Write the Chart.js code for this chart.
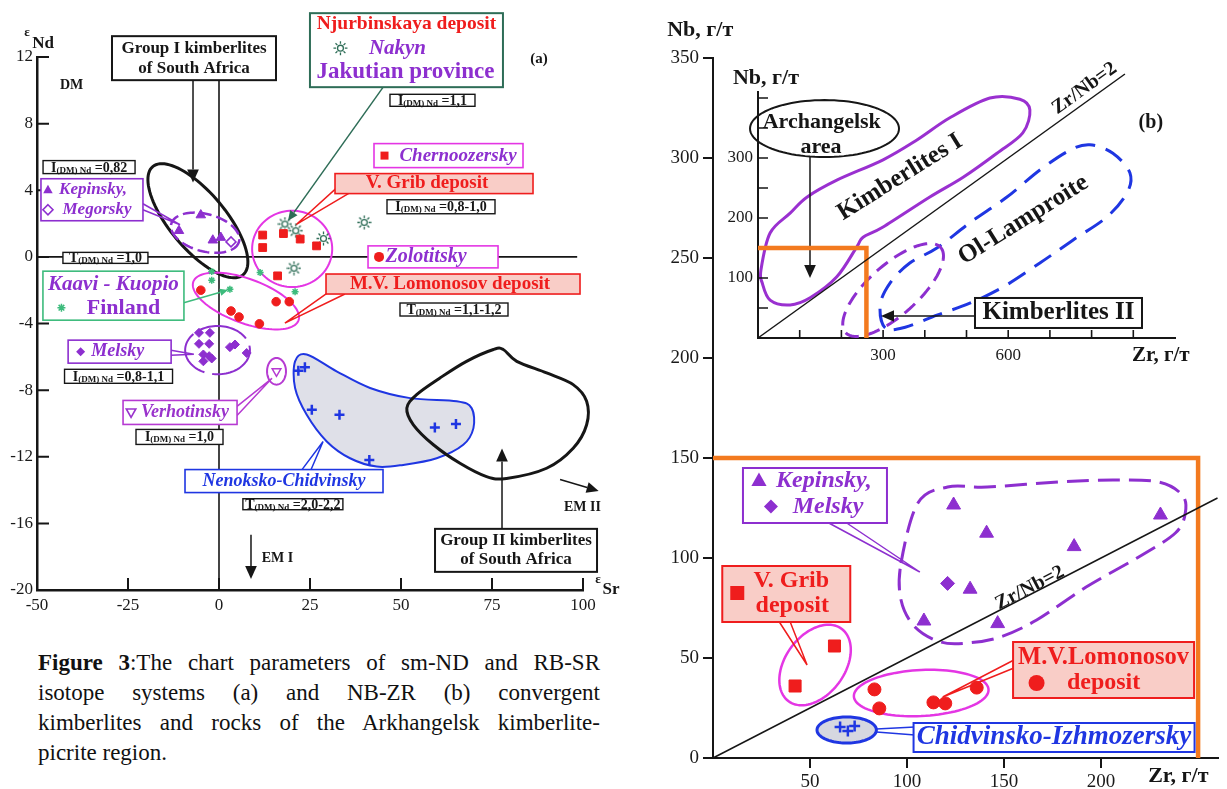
<!DOCTYPE html>
<html lang="en">
<head>
<meta charset="utf-8">
<title>Figure 3</title>
<script src="https://cdn.jsdelivr.net/npm/chart.js@4.4.1/dist/chart.umd.min.js"></script>
<style>
  html, body { margin: 0; padding: 0; background: #fff; }
  body { position: relative; width: 1227px; height: 789px; overflow: hidden; }
  canvas { position: absolute; }
  #chart-a { left: 0; top: 0; }
  #chart-b { left: 640px; top: 0; }
  #chart-b-inset { left: 700px; top: 60px; }
  #caption { position: absolute; left: 38px; top: 648px; width: 562px;
             font: 23px/30px "Liberation Serif", serif; color: #111; }
  #caption span { display: block; text-align: justify; text-align-last: justify; }
  #caption span.last { text-align-last: left; }
</style>
</head>
<body>
<canvas id="chart-a" width="630" height="625"></canvas>
<canvas id="chart-b" width="587" height="789"></canvas>
<canvas id="chart-b-inset" width="527" height="320"></canvas>
<div id="caption">
  <span><b>Figure 3</b>:The chart parameters of sm-ND and RB-SR</span>
  <span>isotope systems (a) and NB-ZR (b) convergent</span>
  <span>kimberlites and rocks of the Arkhangelsk kimberlite-</span>
  <span class="last">picrite region.</span>
</div>
<script>
const SERIF = '"Liberation Serif", "DejaVu Serif", serif';
Chart.defaults.font.family = SERIF;
Chart.defaults.color = '#1a1a1a';

const RED = '#ef1d1d', PURPLE = '#8d2fcf', MAGENTA = '#e436e4', BLUE = '#1f36e2',
      GREEN = '#3dbb7c', TEAL = '#2e6d57', ORANGE = '#f37a1f', INK = '#161616', PINK = '#f9cdc7';

// --- (a) eSr - eNd ---
const srTicks = [-50, -25, 0, 25, 50, 75, 100];
const ndTicks = [-20, -16, -12, -8, -4, 0, 4, 8, 12];

const chernoSr = [12.0, 12.0, 17.7, 22.3, 26.8, 16.1];
const chernoNd = [1.31, 0.56, 1.40, 1.07, 0.66, -1.14];
const nakynSr = [18.1, 21.1, 28.7, 20.6, 39.9];
const nakynNd = [1.97, 1.57, 1.10, -0.68, 2.07];
const zolotSr = [-5.0, 15.7, 19.3, 3.3, 5.5, 11.1];
const zolotNd = [-2.0, -2.69, -2.69, -3.25, -3.61, -4.02];
const kaaviSr = [-2.0, -2.0, 3.0, 11.3, 20.9];
const kaaviNd = [-0.88, -1.4, -1.95, -0.94, -2.09];
const kepinskySr = [-5.0, -11.0, -1.7, 0.5];
const kepinskyNd = [2.51, 1.57, 1.0, 1.16];
const megorskySr = [3.3];
const megorskyNd = [0.9];
const melskySr = [-5.5, -2.5, -5.5, -2.7, -4.3, -2.7, -4.3, -2.0, 3.0, 4.4, 7.6];
const melskyNd = [-4.56, -4.56, -5.22, -5.22, -5.86, -5.96, -6.27, -6.1, -5.42, -5.26, -5.77];
const verhoSr = [15.8];
const verhoNd = [-6.87];
const nenokSr = [21.8, 23.6, 25.5, 33.1, 41.3, 59.3, 65.1];
const nenokNd = [-6.83, -6.63, -9.18, -9.48, -12.19, -10.24, -10.04];

// --- (b) Zr - Nb ---
const zrTicks = [50, 100, 150, 200];
const nbTicks = [0, 50, 100, 150, 200, 250, 300, 350];
const insetZrTicks = [100, 200, 300, 400, 500, 600, 700, 800, 900];
const insetZrLabels = [300, 600];
const insetNbTicks = [50, 100, 150, 200, 250, 300, 350, 400];
const insetNbLabels = [100, 200, 300];

const kepinskyZr = [124.0, 141.0, 132.5, 108.7, 146.7, 186.1, 230.6];
const kepinskyNb = [126.5, 112.4, 84.4, 68.5, 67.2, 105.7, 121.5];
const melskyZr = [120.9];
const melskyNb = [87.3];
const gribZr = [42.3, 62.6];
const gribNb = [36.0, 56.0];
const lomonosovZr = [83.2, 85.7, 113.6, 119.7, 135.9];
const lomonosovNb = [34.3, 24.8, 27.8, 27.3, 35.2];
const chidZr = [65.5, 69.5, 73.0];
const chidNb = [15.5, 13.5, 16.0];

// Zr/Nb = 2 reference line and the Arkhangelsk window (Zr <= 250, Nb <= 150)
const ratioZr = [0, 260];
const ratioNb = [0, 130];
const frameZr = [0, 250, 250];
const frameNb = [150, 150, 0];
const insetRatioZr = [0, 880];
const insetRatioNb = [0, 440];
const insetFrameZr = [0, 260, 260];
const insetFrameNb = [150, 150, 0];

const pts = (xs, ys) => xs.map((x, i) => ({ x, y: ys[i] }));
const mapper = chart => (x, y) => [chart.scales.x.getPixelForValue(x), chart.scales.y.getPixelForValue(y)];

// ---------- drawing helpers ----------
function glyph(ctx, type, x, y, r, color) {
  ctx.save();
  ctx.fillStyle = color; ctx.strokeStyle = color; ctx.lineWidth = 1.6;
  ctx.beginPath();
  let fill = true;
  switch (type) {
    case 'tri':
      ctx.moveTo(x, y - r); ctx.lineTo(x + r * 0.95, y + r * 0.7); ctx.lineTo(x - r * 0.95, y + r * 0.7); ctx.closePath(); break;
    case 'triDownOpen':
      fill = false;
      ctx.moveTo(x, y + r); ctx.lineTo(x + r * 0.95, y - r * 0.7); ctx.lineTo(x - r * 0.95, y - r * 0.7); ctx.closePath(); break;
    case 'diamondOpen':
      fill = false;
    // falls through
    case 'diamond':
      ctx.moveTo(x, y - r); ctx.lineTo(x + r, y); ctx.lineTo(x, y + r); ctx.lineTo(x - r, y); ctx.closePath(); break;
    case 'square':
      ctx.rect(x - r, y - r, 2 * r, 2 * r); break;
    case 'circle':
      ctx.arc(x, y, r, 0, Math.PI * 2); break;
    case 'sun':
      fill = false; ctx.lineWidth = 1.3;
      ctx.arc(x, y, r * 0.42, 0, Math.PI * 2);
      for (let k = 0; k < 8; k++) {
        const a = k * Math.PI / 4;
        ctx.moveTo(x + Math.cos(a) * r * 0.62, y + Math.sin(a) * r * 0.62);
        ctx.lineTo(x + Math.cos(a) * r, y + Math.sin(a) * r);
      }
      break;
    case 'star':
      fill = false; ctx.lineWidth = 1.5;
      for (let k = 0; k < 4; k++) {
        const a = k * Math.PI / 4;
        ctx.moveTo(x - Math.cos(a) * r, y - Math.sin(a) * r);
        ctx.lineTo(x + Math.cos(a) * r, y + Math.sin(a) * r);
      }
      break;
  }
  fill ? ctx.fill() : ctx.stroke();
  ctx.restore();
}

function sunImage(size, color) {
  const c = document.createElement('canvas');
  c.width = c.height = size;
  glyph(c.getContext('2d'), 'sun', size / 2, size / 2, size / 2 - 0.5, color);
  return c;
}

function fontOf(size, italic) {
  return `${italic ? 'italic ' : ''}bold ${size}px ${SERIF}`;
}

function label(ctx, P, t) {
  const [x, y] = P(t.x, t.y);
  ctx.save();
  ctx.font = fontOf(t.size, t.italic);
  ctx.fillStyle = t.color || INK;
  ctx.textAlign = t.align || 'center';
  ctx.textBaseline = 'middle';
  ctx.translate(x, y);
  if (t.rot) ctx.rotate(t.rot);
  ctx.fillText(t.t, 0, 0);
  ctx.restore();
}

function textBox(ctx, P, b) {
  const [cx, cy] = P(b.x, b.y);
  ctx.save();
  ctx.fillStyle = b.fill || '#fff';
  ctx.fillRect(cx - b.w / 2, cy - b.h / 2, b.w, b.h);
  ctx.strokeStyle = b.stroke; ctx.lineWidth = b.lw || 1.6;
  ctx.strokeRect(cx - b.w / 2, cy - b.h / 2, b.w, b.h);
  ctx.textAlign = 'center'; ctx.textBaseline = 'middle';
  b.rows.forEach(r => {
    if (r.glyph) glyph(ctx, r.glyph, cx + r.gx, cy + (r.gy ?? r.dy ?? 0), r.gr, r.gc || r.color);
    ctx.font = fontOf(r.size, r.italic);
    ctx.fillStyle = r.color || INK;
    ctx.fillText(r.t, cx + (r.dx || 0), cy + (r.dy || 0));
  });
  ctx.restore();
}

// model-age tag: T(DM) Nd = ...
function ageLabel(ctx, P, d) {
  const [cx, cy] = P(d.x, d.y);
  ctx.save();
  ctx.fillStyle = '#fff';
  ctx.fillRect(cx - d.w / 2, cy - d.h / 2, d.w, d.h);
  ctx.strokeStyle = INK; ctx.lineWidth = 1.4;
  ctx.strokeRect(cx - d.w / 2, cy - d.h / 2, d.w, d.h);
  const big = `bold 14px ${SERIF}`, small = `bold 9px ${SERIF}`;
  const sub = '(DM) Nd', val = ' =' + d.v;
  ctx.font = big;
  const w1 = ctx.measureText(d.lead).width, w3 = ctx.measureText(val).width;
  ctx.font = small;
  const w2 = ctx.measureText(sub).width;
  let x = cx - (w1 + w2 + w3) / 2;
  const base = cy + 4.5;
  ctx.fillStyle = INK; ctx.textAlign = 'left'; ctx.textBaseline = 'alphabetic';
  ctx.font = big; ctx.fillText(d.lead, x, base); x += w1;
  ctx.font = small; ctx.fillText(sub, x, base + 1); x += w2;
  ctx.font = big; ctx.fillText(val, x, base);
  ctx.restore();
}

function ellipsePath(ctx, P, e) {
  ctx.beginPath();
  for (let i = 0; i <= 96; i++) {
    const t = i / 96 * Math.PI * 2;
    const [px, py] = P(e.c[0] + e.a[0] * Math.cos(t) + e.b[0] * Math.sin(t),
                       e.c[1] + e.a[1] * Math.cos(t) + e.b[1] * Math.sin(t));
    i ? ctx.lineTo(px, py) : ctx.moveTo(px, py);
  }
  ctx.closePath();
}

// closed Catmull-Rom curve through the outline points
function smoothPath(ctx, p) {
  const n = p.length;
  ctx.beginPath();
  ctx.moveTo(p[0][0], p[0][1]);
  for (let i = 0; i < n; i++) {
    const p0 = p[(i - 1 + n) % n], p1 = p[i], p2 = p[(i + 1) % n], p3 = p[(i + 2) % n];
    ctx.bezierCurveTo(p1[0] + (p2[0] - p0[0]) / 6, p1[1] + (p2[1] - p0[1]) / 6,
                      p2[0] - (p3[0] - p1[0]) / 6, p2[1] - (p3[1] - p1[1]) / 6, p2[0], p2[1]);
  }
  ctx.closePath();
}

function outline(ctx, P, o) {
  ctx.save();
  if (o.points) smoothPath(ctx, o.points.map(q => P(q[0], q[1])));
  else ellipsePath(ctx, P, o);
  if (o.fill) { ctx.fillStyle = o.fill; ctx.fill(); }
  ctx.setLineDash(o.dash || []);
  ctx.strokeStyle = o.stroke; ctx.lineWidth = o.lw || 2;
  ctx.stroke();
  ctx.restore();
}

function leader(ctx, P, l) {
  ctx.save();
  ctx.strokeStyle = l.color; ctx.lineWidth = l.lw || 1.5;
  ctx.beginPath();
  const t = P(l.to[0], l.to[1]);
  l.from.forEach(f => { const p = P(f[0], f[1]); ctx.moveTo(p[0], p[1]); ctx.lineTo(t[0], t[1]); });
  ctx.stroke();
  ctx.restore();
}

function arrow(ctx, P, a) {
  const p1 = P(a.from[0], a.from[1]), p2 = P(a.to[0], a.to[1]);
  const h = a.head || 12, ang = Math.atan2(p2[1] - p1[1], p2[0] - p1[0]);
  const bx = p2[0] - Math.cos(ang) * h, by = p2[1] - Math.sin(ang) * h;
  ctx.save();
  ctx.strokeStyle = a.color || INK; ctx.fillStyle = a.color || INK; ctx.lineWidth = a.lw || 1.5;
  ctx.beginPath(); ctx.moveTo(p1[0], p1[1]); ctx.lineTo(bx, by); ctx.stroke();
  ctx.beginPath();
  ctx.moveTo(p2[0], p2[1]);
  ctx.lineTo(bx + Math.sin(ang) * h * 0.45, by - Math.cos(ang) * h * 0.45);
  ctx.lineTo(bx - Math.sin(ang) * h * 0.45, by + Math.cos(ang) * h * 0.45);
  ctx.closePath(); ctx.fill();
  ctx.restore();
}

function segment(ctx, P, s) {
  ctx.save();
  ctx.strokeStyle = s.color || INK; ctx.lineWidth = s.lw || 1.5;
  ctx.beginPath();
  const a = P(s.from[0], s.from[1]), b = P(s.to[0], s.to[1]);
  ctx.moveTo(a[0], a[1]); ctx.lineTo(b[0], b[1]); ctx.stroke();
  ctx.restore();
}

// tick marks pointing into the plot
function innerTicks(chart, lenX, lenY, lw) {
  const { ctx, chartArea: a, scales: { x, y } } = chart;
  ctx.save();
  ctx.strokeStyle = INK; ctx.lineWidth = lw;
  ctx.beginPath();
  x.ticks.forEach(t => { const px = x.getPixelForValue(t.value); ctx.moveTo(px, a.bottom); ctx.lineTo(px, a.bottom - lenX); });
  y.ticks.forEach(t => { const py = y.getPixelForValue(t.value); ctx.moveTo(a.left, py); ctx.lineTo(a.left + lenY, py); });
  ctx.stroke();
  ctx.restore();
}

function axis(o) {
  return {
    type: 'linear', min: o.min, max: o.max,
    afterBuildTicks: s => { s.ticks = o.ticks.map(value => ({ value })); },
    afterFit: s => {
      if (o.width != null) s.width = o.width;
      if (o.height != null) s.height = o.height;
      s.paddingLeft = s.paddingRight = s.paddingTop = s.paddingBottom = 0;
    },
    border: { display: true, color: INK, width: o.border || 2 },
    grid: o.outer
      ? { display: true, drawOnChartArea: false, drawTicks: true, tickLength: o.outer, color: INK, lineWidth: 2 }
      : { display: false, drawTicks: false },
    ticks: {
      autoSkip: false, maxRotation: 0, padding: o.pad, color: '#1a1a1a', font: { size: o.size },
      callback: v => (!o.labels || o.labels.includes(v)) ? String(v) : ''
    }
  };
}

function scatter(data, style, r, color, extra) {
  return Object.assign({ data, pointStyle: style, pointRadius: r, backgroundColor: color, borderColor: color, borderWidth: 1 }, extra);
}

function pathSet(data, color, width) {
  return { data, showLine: true, pointRadius: 0, borderColor: color, borderWidth: width, tension: 0, clip: false };
}

const baseOptions = {
  responsive: false, animation: false, events: [],
  plugins: { legend: { display: false }, tooltip: { enabled: false } }
};

// ---------- (a) annotations ----------
const fieldNenoksko = [[20.9, -6.27], [24.1, -5.86], [32.3, -6.87], [41.5, -7.87], [52.5, -8.48], [65.3, -8.67],
  [69.4, -9.08], [69.9, -10.28], [67.1, -11.28], [59.8, -12.09], [50.6, -12.49], [43.3, -12.59], [36.0, -12.09],
  [29.6, -11.08], [24.1, -9.48], [20.9, -7.87]];
const fieldGroup2 = [[51.6, -9.08], [54.3, -8.27], [60.7, -7.27], [68.0, -6.27], [75.4, -5.56], [78.1, -5.56],
  [81.8, -6.27], [90.0, -6.97], [97.3, -7.67], [101.0, -8.67], [101.0, -10.08], [97.3, -11.49], [90.0, -12.69],
  [79.0, -13.30], [73.5, -13.19], [66.2, -12.39], [58.9, -11.28], [53.4, -10.08]];

const outlinesA = [
  { points: fieldNenoksko, stroke: BLUE, lw: 2, fill: '#dfe0e8' },
  { points: fieldGroup2, stroke: INK, lw: 3 },
  { c: [-5.8, 2.17], a: [12.4, -3.25], b: [-5.9, -1.08], stroke: INK, lw: 3 },
  { c: [-3.8, 1.45], a: [9.3, -0.54], b: [-1.37, -1.08], stroke: PURPLE, lw: 2.5, dash: [12, 5] },
  { c: [20.1, 0.48], a: [11, 0], b: [0, -2.29], stroke: MAGENTA, lw: 2 },
  { c: [7.4, -2.65], a: [14.45, -1.16], b: [-2.06, -1.25], stroke: MAGENTA, lw: 2 },
  { c: [-0.4, -5.6], a: [8.9, 0], b: [0, -1.45], stroke: PURPLE, lw: 2, dash: [50, 8] },
  { c: [15.8, -6.87], a: [2.6, 0], b: [0, -0.8], stroke: '#b63ad2', lw: 2 }
];

const leadersA = [
  { from: [[-20.9, 3.19], [-20.9, 2.83]], to: [-10.7, 1.93], color: PURPLE },
  { from: [[-13.2, -5.6], [-13.2, -5.9]], to: [-6.9, -5.84], color: PURPLE },
  { from: [[4.95, -8.98], [4.95, -9.52]], to: [14.56, -7.29], color: '#b63ad2' },
  { from: [[22.8, -12.77], [25.3, -12.77]], to: [28.6, -11.08], color: BLUE },
  { from: [[32.7, 4.22], [36.0, 3.86]], to: [21.15, 1.93], color: RED },
  { from: [[30.5, -2.05], [34.6, -2.23]], to: [18.1, -3.98], color: RED }
];

const arrowsA = [
  { from: [-7.14, 10.6], to: [-7.14, 4.46], head: 13 },
  { from: [77.75, -16.33], to: [77.75, -11.51], head: 13 },
  { from: [8.79, -16.69], to: [8.79, -19.34], head: 13 },
  { from: [93.7, -13.37], to: [104.3, -14.05], head: 12 },
  { from: [45.05, 10.18], to: [18.96, 2.17], color: TEAL, head: 10 },
  { from: [-9.9, -2.77], to: [2.47, -1.99], color: GREEN, head: 8 }
];

const boxesA = [
  { x: -6.87, y: 11.93, w: 164, h: 44, stroke: INK, lw: 2, rows: [
    { t: 'Group I kimberlites', dy: -10, size: 17 }, { t: 'of South Africa', dy: 10, size: 17 }] },
  { x: -34.9, y: 3.43, w: 102, h: 42, stroke: PURPLE, rows: [
    { t: 'Kepinsky,', dx: 1, dy: -10, size: 17, italic: true, color: PURPLE, glyph: 'tri', gx: -44, gr: 5 },
    { t: 'Megorsky', dx: 5, dy: 10, size: 17, italic: true, color: PURPLE, glyph: 'diamondOpen', gx: -44, gr: 5 }] },
  { x: -29.0, y: -2.33, w: 141, h: 49, stroke: GREEN, rows: [
    { t: 'Kaavi - Kuopio', dy: -11, size: 21, italic: true, color: PURPLE },
    { t: 'Finland', dx: 10, dy: 13, size: 22, color: PURPLE, glyph: 'star', gx: -52, gy: 12, gr: 4, gc: GREEN }] },
  { x: -27.3, y: -5.69, w: 103, h: 23, stroke: PURPLE, rows: [
    { t: 'Melsky', dx: -2, size: 18, italic: true, color: PURPLE, glyph: 'diamond', gx: -39, gr: 4.5 }] },
  { x: -10.7, y: -9.34, w: 114, h: 24, stroke: '#b63ad2', rows: [
    { t: 'Verhotinsky', dx: 5, size: 18, italic: true, color: '#9a33cc', glyph: 'triDownOpen', gx: -49, gr: 5 }] },
  { x: 17.86, y: -13.46, w: 198, h: 23, stroke: BLUE, rows: [
    { t: 'Nenoksko-Chidvinsky', size: 18, italic: true, color: BLUE }] },
  { x: 81.6, y: -17.62, w: 162, h: 43, stroke: INK, lw: 2, rows: [
    { t: 'Group II kimberlites', dy: -10, size: 17 }, { t: 'of South Africa', dy: 9, size: 17 }] },
  { x: 51.5, y: 12.41, w: 193, h: 74, stroke: TEAL, lw: 2, rows: [
    { t: 'Njurbinskaya deposit', dy: -26, size: 19.5, color: RED },
    { t: 'Nakyn', dx: -9, dy: -2, size: 21, italic: true, color: PURPLE, glyph: 'sun', gx: -66, gr: 7, gc: TEAL },
    { t: 'Jakutian province', dx: -1, dy: 22, size: 23, color: PURPLE }] },
  { x: 63.05, y: 6.08, w: 149, h: 24, stroke: MAGENTA, rows: [
    { t: 'Chernoozersky', dx: 9.5, size: 19, italic: true, color: PURPLE, glyph: 'square', gx: -64, gr: 4, gc: RED }] },
  { x: 59.07, y: 4.40, w: 198, h: 20, stroke: RED, fill: PINK, rows: [
    { t: 'V. Grib deposit', dx: -7, size: 19, color: RED }] },
  { x: 58.8, y: 0, w: 130, h: 22, stroke: MAGENTA, rows: [
    { t: 'Zolotitsky', dx: -7, size: 20, italic: true, color: PURPLE, glyph: 'circle', gx: -54, gr: 5, gc: RED }] },
  { x: 64.29, y: -1.63, w: 254, h: 20, stroke: RED, fill: PINK, rows: [
    { t: 'M.V. Lomonosov deposit', dx: -3, size: 19, color: RED }] }
];

const agesA = [
  { x: -35.7, y: 5.39, w: 92, h: 13, lead: 'I', v: '0,82' },
  { x: -31.2, y: -0.06, w: 85, h: 11, lead: 'T', v: '1,0' },
  { x: 58.65, y: 9.40, w: 85, h: 12, lead: 'I', v: '1,1' },
  { x: 60.99, y: 3.01, w: 108, h: 14, lead: 'I', v: '0,8-1,0' },
  { x: 64.56, y: -3.16, w: 108, h: 13, lead: 'T', v: '1,1-1,2' },
  { x: -27.6, y: -7.17, w: 108, h: 14, lead: 'I', v: '0,8-1,1' },
  { x: -10.85, y: -10.81, w: 87, h: 15, lead: 'I', v: '1,0' },
  { x: 20.3, y: -14.85, w: 100, h: 11, lead: 'T', v: '2,0-2,2' }
];

const textsA = [
  { x: -52.75, y: 13.49, t: 'ε', size: 13 },
  { x: -48.3, y: 12.8, t: 'Nd', size: 17 },
  { x: -40.5, y: 10.3, t: 'DM', size: 14 },
  { x: 87.9, y: 11.87, t: '(a)', size: 15 },
  { x: 16.07, y: -18.11, t: 'EM I', size: 14 },
  { x: 99.86, y: -15.06, t: 'EM II', size: 14 },
  { x: 104.1, y: -19.4, t: 'ε', size: 13 },
  { x: 107.7, y: -20.0, t: 'Sr', size: 17 }
];

const annotateA = {
  id: 'annotateA',
  beforeDatasetsDraw(chart) {
    const { ctx } = chart, P = mapper(chart);
    segment(ctx, P, { from: [0, 10.6], to: [0, -20], lw: 1.6 });
    segment(ctx, P, { from: [-50, 0], to: [98.4, 0], lw: 1.6 });
    outlinesA.forEach(o => outline(ctx, P, o));
    leadersA.forEach(l => leader(ctx, P, l));
    arrowsA.forEach(a => arrow(ctx, P, a));
    innerTicks(chart, 12, 12, 2);
  },
  afterDatasetsDraw(chart) {
    const { ctx } = chart, P = mapper(chart);
    boxesA.forEach(b => textBox(ctx, P, b));
    agesA.forEach(d => ageLabel(ctx, P, d));
    textsA.forEach(t => label(ctx, P, t));
  }
};

new Chart(document.getElementById('chart-a'), {
  type: 'scatter',
  data: {
    datasets: [
      scatter(pts(chernoSr, chernoNd), 'rect', 5.5, RED),
      scatter(pts(nakynSr, nakynNd), sunImage(15, TEAL), 7, TEAL),
      scatter(pts(zolotSr, zolotNd), 'circle', 4.3, RED),
      scatter(pts(kaaviSr, kaaviNd), 'star', 3.5, GREEN, { borderWidth: 1.5 }),
      scatter(pts(kepinskySr, kepinskyNd), 'triangle', 5.5, PURPLE),
      scatter(pts(megorskySr, megorskyNd), 'rectRot', 5, PURPLE, { backgroundColor: '#fff', borderWidth: 1.5 }),
      scatter(pts(melskySr, melskyNd), 'rectRot', 4.5, PURPLE),
      scatter(pts(verhoSr, verhoNd), 'triangle', 5, '#b63ad2', { rotation: 180, backgroundColor: '#fff', borderWidth: 1.5 }),
      scatter(pts(nenokSr, nenokNd), 'cross', 5, BLUE, { borderWidth: 2.5 })
    ]
  },
  options: Object.assign({}, baseOptions, {
    layout: { padding: { left: 0, top: 57, right: 47, bottom: 0 } },
    scales: {
      x: axis({ min: -50, max: 100, ticks: srTicks, height: 35, pad: 5, size: 17, border: 2.5 }),
      y: axis({ min: -20, max: 12, ticks: ndTicks, width: 37, pad: 4, size: 17, border: 2.5 })
    }
  }),
  plugins: [annotateA]
});

// ---------- (b) main plot ----------
const fieldKepinskyB = [[96.9, 97.5], [105.6, 127.5], [120.9, 135.5], [141.3, 135.5], [178.6, 138], [206.1, 139],
  [229.6, 138], [241.8, 131.5], [243.4, 122.5], [238.3, 112.5], [219.4, 100.5], [192.3, 85.5], [166.8, 69],
  [148, 60.5], [131.1, 57.5], [117.3, 58], [104.1, 65.5], [96.9, 79]];

const outlinesB = [
  { points: fieldKepinskyB, stroke: PURPLE, lw: 3, dash: [22, 9] },
  { c: [52.6, 46.5], a: [13.8, 18], b: [12.2, -9], stroke: MAGENTA, lw: 2.5 },
  { c: [107.3, 32.5], a: [34.7, 1.5], b: [0, -11.5], stroke: MAGENTA, lw: 2.5 },
  { c: [68.9, 14], a: [15.3, 0], b: [0, 6.5], stroke: BLUE, lw: 3, fill: '#d6d7e0' }
];

const leadersB = [
  { from: [[59.7, 117.5], [68.9, 117.5]], to: [106.6, 93], color: PURPLE },
  { from: [[34.2, 68], [39.8, 68]], to: [48.5, 46.5], color: RED },
  { from: [[155.1, 49], [155.1, 45]], to: [118.4, 30.5], color: RED }
];

const segmentsB = [
  { from: [84.2, 14.5], to: [104.1, 15.5], color: BLUE, lw: 1.5 },
  { from: [84.2, 13], to: [104.1, 11.5], color: BLUE, lw: 1.5 }
];

const boxesB = [
  { x: 52.55, y: 131.25, w: 144, h: 55, stroke: PURPLE, lw: 2, rows: [
    { t: 'Kepinsky,', dx: 9, dy: -15, size: 24, italic: true, color: PURPLE, glyph: 'tri', gx: -56, gr: 8 },
    { t: 'Melsky', dx: 13, dy: 11, size: 24, italic: true, color: PURPLE, glyph: 'diamond', gx: -44, gr: 7 }] },
  { x: 37.76, y: 82, w: 128, h: 56, stroke: RED, lw: 2, fill: PINK, rows: [
    { t: 'V. Grib', dx: 5, dy: -13, size: 24, color: RED, glyph: 'square', gx: -49, gy: -1, gr: 7 },
    { t: 'deposit', dx: 6, dy: 12, size: 24, color: RED }] },
  { x: 201.28, y: 44, w: 181, h: 56, stroke: RED, lw: 2, fill: PINK, rows: [
    { t: 'M.V.Lomonosov', dy: -12, size: 24.5, color: RED },
    { t: 'deposit', dy: 13, size: 24, color: RED, glyph: 'circle', gx: -67, gr: 8 }] },
  { x: 175.77, y: 10.25, w: 281, h: 29, stroke: BLUE, lw: 2, rows: [
    { t: 'Chidvinsko-Izhmozersky', size: 27, italic: true, color: BLUE }] }
];

const textsB = [
  { x: -6.6, y: 364, t: 'Nb, г/т', size: 22 },
  { x: 239.8, y: -9, t: 'Zr, г/т', size: 22 }
];

function ratioLabel(ctx, P, zr0, zr1, pos, size) {
  const a = P(zr0, zr0 / 2), b = P(zr1, zr1 / 2);
  label(ctx, P, { x: pos[0], y: pos[1], t: 'Zr/Nb=2', size, rot: Math.atan2(b[1] - a[1], b[0] - a[0]) });
}

const annotateB = {
  id: 'annotateB',
  beforeDatasetsDraw(chart) {
    const { ctx } = chart, P = mapper(chart);
    outlinesB.forEach(o => outline(ctx, P, o));
    leadersB.forEach(l => leader(ctx, P, l));
    segmentsB.forEach(s => segment(ctx, P, s));
  },
  afterDatasetsDraw(chart) {
    const { ctx } = chart, P = mapper(chart);
    boxesB.forEach(b => textBox(ctx, P, b));
    textsB.forEach(t => label(ctx, P, t));
    ratioLabel(ctx, P, 0, 260, [163.3, 85], 20);
  }
};

new Chart(document.getElementById('chart-b'), {
  type: 'scatter',
  data: {
    datasets: [
      scatter(pts(kepinskyZr, kepinskyNb), 'triangle', 8, PURPLE),
      scatter(pts(melskyZr, melskyNb), 'rectRot', 7, PURPLE),
      scatter(pts(gribZr, gribNb), 'rect', 8.5, RED),
      scatter(pts(lomonosovZr, lomonosovNb), 'circle', 6.5, RED),
      scatter(pts(chidZr, chidNb), 'cross', 5.5, BLUE, { borderWidth: 2.5 }),
      pathSet(pts(ratioZr, ratioNb), INK, 1.5),
      pathSet(pts(frameZr, frameNb), ORANGE, 4.5)
    ]
  },
  options: Object.assign({}, baseOptions, {
    layout: { padding: { left: 0, top: 58, right: 4.4, bottom: 0 } },
    scales: {
      x: axis({ min: 0, max: 260, ticks: zrTicks, height: 31, pad: 3, size: 19, outer: 10 }),
      y: axis({ min: 0, max: 350, ticks: nbTicks, width: 73, pad: 4, size: 19, outer: 10 })
    }
  }),
  plugins: [annotateB]
});

// ---------- (b) inset: world kimberlites and lamproites ----------
const fieldKimberlitesI = [[7, 113], [29, 175], [77, 208], [118, 235], [189, 263], [300, 297], [381, 330], [460, 367],
  [556, 400], [628, 398], [652, 380], [635, 342], [573, 308], [492, 268], [412, 235], [300, 185], [252, 168],
  [237, 152], [189, 102], [125, 67], [77, 55], [29, 63], [10, 92]];
const fieldLamproite = [[305, 17], [293, 55], [317, 92], [364, 125], [429, 150], [508, 192], [597, 235], [676, 280],
  [748, 313], [796, 322], [851, 308], [892, 275], [885, 242], [837, 202], [755, 163], [676, 125], [588, 85],
  [508, 58], [429, 38], [353, 18]];

const outlinesInset = [
  { points: fieldKimberlitesI, stroke: '#9a30d0', lw: 3 },
  { points: fieldLamproite, stroke: BLUE, lw: 3, dash: [20, 11] },
  { c: [324, 80], a: [114, 71], b: [40, -31], stroke: PURPLE, lw: 3, dash: [14, 8] },
  { c: [159.5, 349], a: [178.6, 0], b: [0, -47.5], stroke: INK, lw: 2 }
];

const arrowsInset = [
  { from: [124.7, 301.7], to: [124.7, 100], head: 13 },
  { from: [520, 36.7], to: [295, 36.7], head: 13 }
];

const textsInset = [
  { x: 152.8, y: 359, t: 'Archangelsk', size: 22 },
  { x: 151, y: 317.5, t: 'area', size: 22 },
  { x: 340.5, y: 268, t: 'Kimberlites I', size: 25, rot: -32 * Math.PI / 180 },
  { x: 636.7, y: 196.7, t: 'Ol-Lamproite', size: 25, rot: -32 * Math.PI / 180 },
  { x: 942, y: 358, t: '(b)', size: 20 },
  { x: 19, y: 433, t: 'Nb, г/т', size: 22 },
  { x: 966, y: -30, t: 'Zr, г/т', size: 21 }
];

const boxesInset = [
  { x: 720.6, y: 41.7, w: 167, h: 30, stroke: INK, lw: 2, rows: [{ t: 'Kimberlites II', size: 25 }] }
];

const annotateInset = {
  id: 'annotateInset',
  beforeDatasetsDraw(chart) {
    const { ctx } = chart, P = mapper(chart);
    outlinesInset.forEach(o => outline(ctx, P, o));
    arrowsInset.forEach(a => arrow(ctx, P, a));
    innerTicks(chart, 8, 10, 1.6);
  },
  afterDatasetsDraw(chart) {
    const { ctx } = chart, P = mapper(chart);
    boxesInset.forEach(b => textBox(ctx, P, b));
    textsInset.forEach(t => label(ctx, P, t));
    ratioLabel(ctx, P, 0, 880, [783, 416], 20);
  }
};

new Chart(document.getElementById('chart-b-inset'), {
  type: 'scatter',
  data: {
    datasets: [
      pathSet(pts(insetRatioZr, insetRatioNb), INK, 1.5),
      pathSet(pts(insetFrameZr, insetFrameNb), ORANGE, 4.5)
    ]
  },
  options: Object.assign({}, baseOptions, {
    layout: { padding: { left: 0, top: 32, right: 52, bottom: 0 } },
    scales: {
      x: axis({ min: 0, max: 1000, ticks: insetZrTicks, labels: insetZrLabels, height: 42, pad: 7, size: 17 }),
      y: axis({ min: 0, max: 410, ticks: insetNbTicks, labels: insetNbLabels, width: 58, pad: 5, size: 17 })
    }
  }),
  plugins: [annotateInset]
});
</script>
</body>
</html>
